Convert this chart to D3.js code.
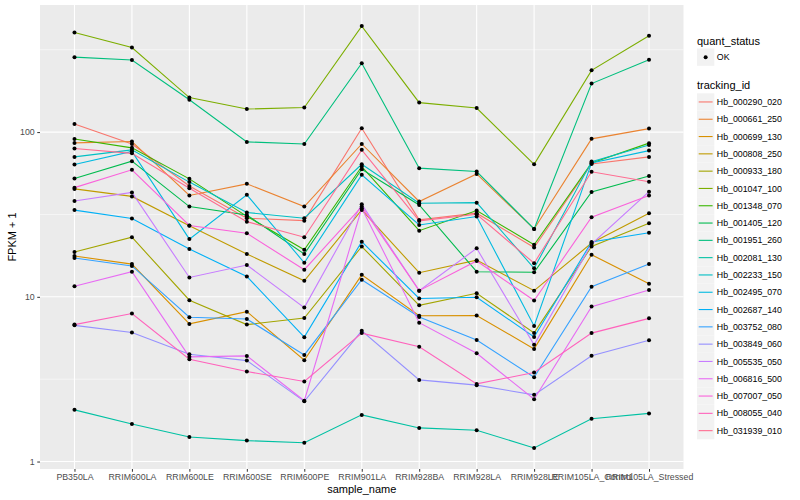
<!DOCTYPE html>
<html>
<head>
<meta charset="utf-8">
<script src="https://cdn.jsdelivr.net/npm/d3@7"></script>
<style>
  body { margin: 0; background: #fff; }
  text { font-family: "Liberation Sans", Arial, Helvetica, sans-serif; }
</style>
</head>
<body>
<div id="chart"></div>
<script>
// categories on x
const samples = ["PB350LA", "RRIM600LA", "RRIM600LE", "RRIM600SE", "RRIM600PE", "RRIM901LA",
  "RRIM928BA", "RRIM928LA", "RRIM928LE", "RRIM105LA_Control", "RRIM105LA_Stressed"];

const trackingIds = ["Hb_000290_020", "Hb_000661_250", "Hb_000699_130", "Hb_000808_250", "Hb_000933_180",
  "Hb_001047_100", "Hb_001348_070", "Hb_001405_120", "Hb_001951_260", "Hb_002081_130",
  "Hb_002233_150", "Hb_002495_070", "Hb_002687_140", "Hb_003752_080", "Hb_003849_060",
  "Hb_005535_050", "Hb_006816_500", "Hb_007007_050", "Hb_008055_040", "Hb_031939_010"];

const colors = ["#F8766D", "#EA8331", "#D89000", "#C09B00", "#A3A500", "#7CAE00", "#39B600", "#00BB4E",
  "#00BF7D", "#00C1A3", "#00BFC4", "#00BAE0", "#00B0F6", "#35A2FF", "#9590FF", "#C77CFF",
  "#E76BF3", "#FA62DB", "#FF62BC", "#FF6C91"];

// FPKM + 1 per sample
const hb_000290_020 = [112, 84.7, 47.1, 30.0, 29.0, 105.6, 29.3, 32.2, 19.9, 64.1, 70.7];
const hb_000661_250 = [86.0, 87.6, 41.2, 48.5, 35.3, 84.7, 37.9, 55.7, 25.8, 91.0, 105];
const hb_000699_130 = [17.7, 15.8, 6.85, 8.13, 4.12, 13.6, 7.67, 7.70, 4.83, 18.0, 12.0];
const hb_000808_250 = [45.2, 40.7, 27.0, 18.2, 12.5, 33.7, 14.0, 16.7, 10.9, 21.2, 32.2];
const hb_000933_180 = [18.7, 23.0, 9.54, 6.78, 7.43, 20.2, 8.88, 10.5, 6.04, 20.2, 28.0];
const hb_001047_100 = [402, 326, 162, 138, 141, 440, 151, 140, 63.7, 237, 384];
const hb_001348_070 = [90.7, 80.2, 52.0, 30.8, 19.3, 61.8, 25.2, 33.4, 20.7, 65.0, 85.7];
const hb_001405_120 = [52.2, 66.6, 35.3, 31.4, 18.2, 59.5, 36.1, 14.2, 14.1, 43.3, 54.2];
const hb_001951_260 = [285, 274, 157, 87.2, 84.7, 262, 60.4, 57.6, 25.8, 197, 275];
const hb_002081_130 = [2.06, 1.69, 1.41, 1.34, 1.30, 1.92, 1.60, 1.55, 1.21, 1.82, 1.96];
const hb_002233_150 = [70.7, 78.0, 49.7, 32.5, 30.0, 63.8, 37.0, 37.3, 14.9, 66.2, 83.5];
const hb_002495_070 = [63.5, 76.4, 22.4, 41.6, 16.1, 55.0, 27.3, 30.7, 6.66, 65.0, 77.2];
const hb_002687_140 = [33.6, 29.9, 19.5, 13.3, 5.69, 21.6, 9.77, 9.94, 5.70, 21.5, 24.5];
const hb_003752_080 = [17.2, 15.4, 7.52, 7.33, 4.44, 12.7, 7.55, 5.47, 3.25, 11.5, 15.8];
const hb_003849_060 = [6.71, 6.07, 4.48, 4.10, 2.32, 6.22, 3.13, 2.91, 2.54, 4.39, 5.45];
const hb_005535_050 = [38.2, 43.0, 13.1, 15.6, 8.60, 36.5, 10.9, 19.7, 5.11, 20.9, 43.5];
const hb_006816_500 = [11.6, 14.2, 4.32, 4.38, 2.34, 34.5, 6.97, 4.54, 2.39, 8.72, 11.0];
const hb_007007_050 = [46.0, 59.0, 27.1, 24.3, 14.6, 35.3, 10.9, 16.5, 9.50, 30.4, 41.2];
const hb_008055_040 = [6.78, 7.92, 4.18, 3.52, 3.06, 6.02, 4.98, 2.96, 3.47, 6.02, 7.40];
const hb_031939_010 = [79.5, 74.3, 45.6, 28.6, 23.0, 78.0, 28.9, 31.7, 16.0, 57.4, 50.0];

const seriesValues = [hb_000290_020, hb_000661_250, hb_000699_130, hb_000808_250, hb_000933_180,
  hb_001047_100, hb_001348_070, hb_001405_120, hb_001951_260, hb_002081_130,
  hb_002233_150, hb_002495_070, hb_002687_140, hb_003752_080, hb_003849_060,
  hb_005535_050, hb_006816_500, hb_007007_050, hb_008055_040, hb_031939_010];

const yTicks = [1, 10, 100];
const yMinor = [Math.sqrt(10), Math.sqrt(1000), Math.sqrt(100000)];

const width = 800;
const height = 500;
const panel = { left: 40, right: 683.5, top: 5, bottom: 469 };

const series = trackingIds.map((id, i) => ({
  id: id,
  color: colors[i],
  values: seriesValues[i].map((v, j) => ({ sample: samples[j], value: v }))
}));

const svg = d3.select("#chart")
  .append("svg")
  .attr("width", width)
  .attr("height", height);

// scales, ggplot style expansion
const x = d3.scalePoint()
  .domain(samples)
  .range([panel.left, panel.right])
  .padding(0.6);

const allValues = seriesValues.flat();
const ext = d3.extent(allValues).map(Math.log10);
const pad = (ext[1] - ext[0]) * 0.05;
const y = d3.scaleLog()
  .domain([Math.pow(10, ext[0] - pad), Math.pow(10, ext[1] + pad)])
  .range([panel.bottom, panel.top]);

// panel background
svg.append("rect")
  .attr("x", panel.left)
  .attr("y", panel.top)
  .attr("width", panel.right - panel.left)
  .attr("height", panel.bottom - panel.top)
  .attr("fill", "#EBEBEB");

// grid
svg.selectAll(".minor")
  .data(yMinor)
  .enter()
  .append("line")
  .attr("x1", panel.left).attr("x2", panel.right)
  .attr("y1", d => y(d)).attr("y2", d => y(d))
  .attr("stroke", "#fff")
  .attr("stroke-width", 0.55);

svg.selectAll(".major-y")
  .data(yTicks)
  .enter()
  .append("line")
  .attr("x1", panel.left).attr("x2", panel.right)
  .attr("y1", d => y(d)).attr("y2", d => y(d))
  .attr("stroke", "#fff")
  .attr("stroke-width", 1.1);

svg.selectAll(".major-x")
  .data(samples)
  .enter()
  .append("line")
  .attr("x1", d => x(d)).attr("x2", d => x(d))
  .attr("y1", panel.top).attr("y2", panel.bottom)
  .attr("stroke", "#fff")
  .attr("stroke-width", 1.1);

// lines
const line = d3.line()
  .x(d => x(d.sample))
  .y(d => y(d.value));

svg.selectAll(".series")
  .data(series)
  .enter()
  .append("path")
  .attr("d", d => line(d.values))
  .attr("fill", "none")
  .attr("stroke", d => d.color)
  .attr("stroke-width", 1.1);

// points
svg.selectAll(".pt")
  .data(series.flatMap(s => s.values))
  .enter()
  .append("circle")
  .attr("cx", d => x(d.sample))
  .attr("cy", d => y(d.value))
  .attr("r", 2)
  .attr("fill", "#000");

// axes
const xAxis = svg.append("g")
  .attr("transform", `translate(0,${panel.bottom})`)
  .call(d3.axisBottom(x).tickSize(2.75).tickPadding(2.5));
xAxis.select(".domain").remove();
xAxis.selectAll("line").attr("stroke", "#333");
xAxis.selectAll("text")
  .attr("fill", "#4D4D4D")
  .style("font-size", "8.8px");

const yAxis = svg.append("g")
  .attr("transform", `translate(${panel.left},0)`)
  .call(d3.axisLeft(y).tickValues(yTicks).tickFormat(d3.format("d")).tickSize(2.75).tickPadding(2.5));
yAxis.select(".domain").remove();
yAxis.selectAll("line").attr("stroke", "#333");
yAxis.selectAll("text")
  .attr("fill", "#4D4D4D")
  .style("font-size", "8.8px");

// axis titles
svg.append("text")
  .attr("x", (panel.left + panel.right) / 2)
  .attr("y", 493)
  .attr("text-anchor", "middle")
  .style("font-size", "11px")
  .text("sample_name");

svg.append("text")
  .attr("transform", `translate(16,${(panel.top + panel.bottom) / 2}) rotate(-90)`)
  .attr("text-anchor", "middle")
  .style("font-size", "11px")
  .text("FPKM + 1");

// legends
const lg = svg.append("g").attr("transform", "translate(697,0)");
const keySize = 17.3;

lg.append("text")
  .attr("x", 0).attr("y", 45)
  .style("font-size", "11px")
  .text("quant_status");
lg.append("rect")
  .attr("x", 0).attr("y", 48.5)
  .attr("width", keySize).attr("height", keySize)
  .attr("fill", "#F2F2F2");
lg.append("circle")
  .attr("cx", keySize / 2).attr("cy", 48.5 + keySize / 2)
  .attr("r", 2)
  .attr("fill", "#000");
lg.append("text")
  .attr("x", keySize + 2.5).attr("y", 48.5 + keySize / 2 + 3.1)
  .style("font-size", "8.8px")
  .text("OK");

lg.append("text")
  .attr("x", 0).attr("y", 89)
  .style("font-size", "11px")
  .text("tracking_id");

const keys = lg.selectAll(".key")
  .data(series)
  .enter()
  .append("g")
  .attr("transform", (d, i) => `translate(0,${93.3 + i * keySize})`);

keys.append("rect")
  .attr("width", keySize).attr("height", keySize)
  .attr("fill", "#F2F2F2");
keys.append("line")
  .attr("x1", 1.7).attr("x2", keySize - 1.7)
  .attr("y1", keySize / 2).attr("y2", keySize / 2)
  .attr("stroke", d => d.color)
  .attr("stroke-width", 1.1);
keys.append("text")
  .attr("x", keySize + 2.5)
  .attr("y", keySize / 2 + 3.1)
  .style("font-size", "8.8px")
  .text(d => d.id);
</script>
</body>
</html>
